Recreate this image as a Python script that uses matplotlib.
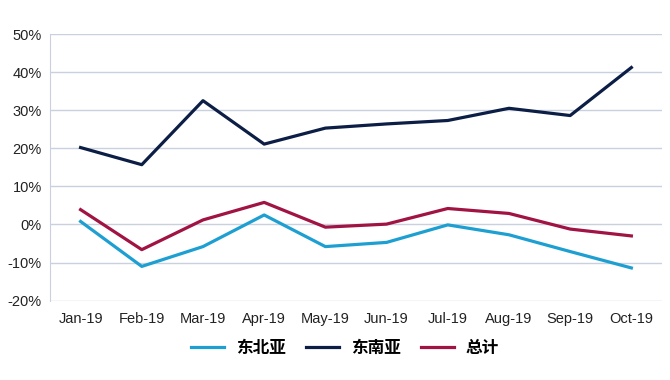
import matplotlib
matplotlib.use("Agg")
import matplotlib.pyplot as plt
from matplotlib.ticker import FuncFormatter

months = ["Jan-19", "Feb-19", "Mar-19", "Apr-19", "May-19", "Jun-19",
          "Jul-19", "Aug-19", "Sep-19", "Oct-19"]
northeast_asia = [0.8, -11.0, -5.8, 2.5, -5.8, -4.7, -0.1, -2.7, -7.1, -11.4]
southeast_asia = [20.2, 15.7, 32.5, 21.1, 25.3, 26.4, 27.3, 30.5, 28.6, 41.2]
total = [3.9, -6.6, 1.2, 5.8, -0.7, 0.1, 4.2, 2.9, -1.2, -3.0]
series_names = ["东北亚", "东南亚", "总计"]

plt.rcParams['font.family'] = ['Liberation Sans', 'DejaVu Sans']

fig = plt.figure(figsize=(6.7, 3.8), dpi=100)
ax = fig.add_axes([0.0746, 0.2087, 0.9134, 0.7018])

x = list(range(len(months)))
ax.plot(x, northeast_asia, color="#1e9fd2", lw=2.3, label=series_names[0])
ax.plot(x, southeast_asia, color="#0c1e45", lw=2.3, label=series_names[1])
ax.plot(x, total, color="#a01342", lw=2.3, label=series_names[2])

ax.set_xlim(-0.5, len(months) - 0.5)
ax.set_ylim(-20, 50)
ax.set_yticks(range(-20, 51, 10))
ax.yaxis.set_major_formatter(FuncFormatter(lambda v, p: f"{int(v)}%"))
ax.set_xticks(x)
ax.set_xticklabels(months)
ax.grid(axis='y', color="#c9d1de", lw=1.0)
ax.set_axisbelow(True)
for s in ["top", "right", "bottom"]:
    ax.spines[s].set_visible(False)
ax.spines["left"].set_color("#c9d1de")
ax.tick_params(axis='both', length=0, labelsize=10.5, colors="#222222")
ax.tick_params(axis='x', pad=8)
ax.tick_params(axis='y', pad=6)

leg = fig.legend(loc="center", bbox_to_anchor=(0.515, 0.085), ncol=3, frameon=False,
                 prop={'family': ['Noto Sans CJK SC'], 'size': 12, 'weight': 'bold'},
                 handlelength=2.0, columnspacing=1.2, handletextpad=0.7)

fig.savefig("out.png", dpi=100)
